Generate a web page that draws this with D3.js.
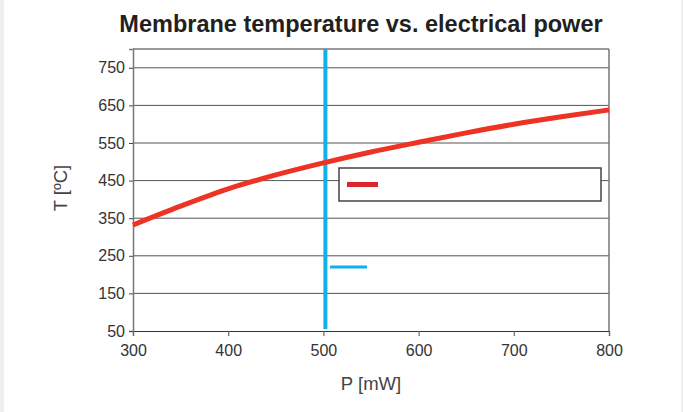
<!DOCTYPE html>
<html>
<head>
<meta charset="utf-8">
<script src="https://cdn.jsdelivr.net/npm/d3@7"></script>
<style>
  html, body { margin: 0; padding: 0; background: #efefef; }
  svg { display: block; }
  text { font-family: "Liberation Sans", Arial, Helvetica, sans-serif; }
</style>
</head>
<body>
<svg id="chart" width="683" height="412"></svg>
<script>
// curve values
const powerMW = [300, 350, 400, 450, 500, 550, 600, 650, 700, 750, 800];
const tempC   = [332, 382, 428, 465, 497, 526, 552, 577, 600, 620, 638];

// operating point marker
const markerPower = [500];

const xTicks = [300, 400, 500, 600, 700, 800];
const yTicks = [50, 150, 250, 350, 450, 550, 650, 750];

const titleText = "Membrane temperature vs. electrical power";
const xLabel = "P [mW]";
const yLabel = "T [ºC]";

const svg = d3.select("#chart");

// white page with thin grey edges
svg.append("rect")
    .attr("x", 4).attr("y", 0)
    .attr("width", 677).attr("height", 412)
    .attr("fill", "#fff");

const x = d3.scaleLinear().domain([300, 800]).range([133, 609]);
const y = d3.scaleLinear().domain([50, 800]).range([331, 49]);

// title
svg.append("text")
    .attr("x", 361).attr("y", 32)
    .attr("text-anchor", "middle")
    .attr("font-size", 23.5)
    .attr("font-weight", "bold")
    .attr("fill", "#231f20")
    .text(titleText);

// horizontal grid lines
svg.append("g")
    .selectAll("line")
    .data(yTicks.filter(d => d > 50))
    .join("line")
    .attr("x1", x(300)).attr("x2", x(800))
    .attr("y1", d => y(d)).attr("y2", d => y(d))
    .attr("stroke", "#555")
    .attr("stroke-width", 1);

// frame: top and right
svg.append("line")
    .attr("x1", x(300)).attr("x2", x(800))
    .attr("y1", y(800)).attr("y2", y(800))
    .attr("stroke", "#777").attr("stroke-width", 1.5);
svg.append("line")
    .attr("x1", x(800)).attr("x2", x(800))
    .attr("y1", y(800)).attr("y2", y(50))
    .attr("stroke", "#777").attr("stroke-width", 1.5);

// x axis
const xAxis = svg.append("g")
    .attr("transform", `translate(0,${y(50)})`)
    .call(d3.axisBottom(x).tickValues(xTicks).tickSize(5).tickPadding(9).tickFormat(d3.format("d")));
xAxis.select(".domain").attr("stroke", "#333").attr("stroke-width", 1.2);
xAxis.selectAll(".tick line").attr("stroke", "#666").attr("stroke-width", 1.2);
xAxis.selectAll("text")
    .attr("font-size", 16)
    .attr("fill", "#333")
    .style("font-family", "'Liberation Sans', Arial, sans-serif");

// y axis
const yAxis = svg.append("g")
    .attr("transform", `translate(${x(300)},0)`)
    .call(d3.axisLeft(y).tickValues(yTicks).tickSize(4).tickPadding(4).tickFormat(d3.format("d")));
yAxis.select(".domain").attr("stroke", "#777").attr("stroke-width", 1.5);
yAxis.selectAll(".tick line").attr("stroke", "#444");
yAxis.selectAll("text")
    .attr("font-size", 16)
    .attr("fill", "#333")
    .style("font-family", "'Liberation Sans', Arial, sans-serif");

// axis titles
svg.append("text")
    .attr("x", 371).attr("y", 390)
    .attr("text-anchor", "middle")
    .attr("font-size", 18.5)
    .attr("fill", "#444")
    .text(xLabel);

svg.append("text")
    .attr("transform", `translate(67,188) rotate(-90)`)
    .attr("text-anchor", "middle")
    .attr("font-size", 18.5)
    .attr("fill", "#444")
    .text(yLabel);

// blue vertical marker
svg.append("g")
    .selectAll("line")
    .data(markerPower)
    .join("line")
    .attr("x1", d => x(d) + 2).attr("x2", d => x(d) + 2)
    .attr("y1", y(800)).attr("y2", y(50) - 2)
    .attr("stroke", "#10b0ea")
    .attr("stroke-width", 4);

// red temperature curve
const line = d3.line()
    .x((d, i) => x(powerMW[i]))
    .y(d => y(d))
    .curve(d3.curveMonotoneX);

svg.append("path")
    .datum(tempC)
    .attr("d", line)
    .attr("fill", "none")
    .attr("stroke", "#ee3224")
    .attr("stroke-width", 5);

// legend box with red swatch
svg.append("rect")
    .attr("x", 339).attr("y", 168)
    .attr("width", 262).attr("height", 33)
    .attr("fill", "#fff")
    .attr("stroke", "#444")
    .attr("stroke-width", 1.5);

svg.append("line")
    .attr("x1", 347).attr("x2", 378)
    .attr("y1", 184.5).attr("y2", 184.5)
    .attr("stroke", "#d9262f")
    .attr("stroke-width", 5);

// loose blue legend swatch
svg.append("line")
    .attr("x1", 330).attr("x2", 367)
    .attr("y1", 267).attr("y2", 267)
    .attr("stroke", "#10b0ea")
    .attr("stroke-width", 3);
</script>
</body>
</html>
